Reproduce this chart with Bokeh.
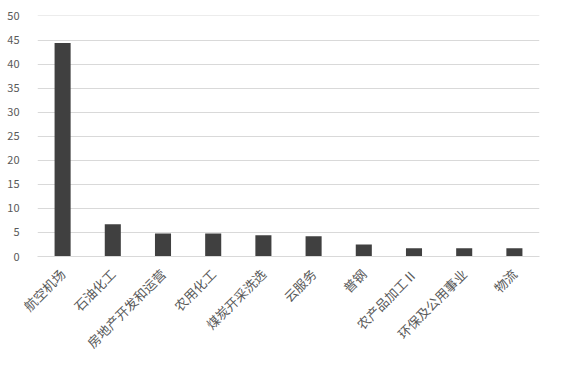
import math
from bokeh.plotting import figure
from bokeh.models import FactorRange, Range1d, FixedTicker, ColumnDataSource
from bokeh.embed import file_html
from bokeh.resources import INLINE

categories = ["航空机场", "石油化工", "房地产开发和运营", "农用化工", "煤炭开采洗选",
              "云服务", "普钢", "农产品加工Ⅱ", "环保及公用事业", "物流"]
values = [44.4, 6.7, 4.8, 4.8, 4.4, 4.2, 2.5, 1.7, 1.7, 1.7]
y_ticks = [0, 5, 10, 15, 20, 25, 30, 35, 40, 45, 50]

src = ColumnDataSource(dict(cat=categories, val=values))

p = figure(x_range=FactorRange(*categories, range_padding=0), y_range=Range1d(0, 50.1),
           frame_width=502, frame_height=241, output_backend="svg", toolbar_location=None,
           min_border_left=37, min_border_right=10, min_border_top=15, min_border_bottom=0)
p.outline_line_color = None
p.vbar(x="cat", top="val", width=0.32, source=src, color="#404040", line_color=None)

p.yaxis.ticker = FixedTicker(ticks=y_ticks)
p.yaxis.axis_line_color = None
p.yaxis.major_tick_line_color = None
p.yaxis.minor_tick_line_color = None
p.yaxis.major_label_standoff = 12
p.yaxis.major_label_text_font = "Noto Sans CJK SC"
p.yaxis.major_label_text_font_size = "11px"
p.yaxis.major_label_text_color = "#595959"

p.xaxis.axis_line_color = "#d9d9d9"
p.xaxis.major_tick_line_color = None
p.xaxis.minor_tick_line_color = None
p.xaxis.major_label_orientation = math.pi / 4
p.xaxis.major_label_standoff = 9
p.xaxis.major_label_text_font = "Noto Sans CJK SC"
p.xaxis.major_label_text_font_size = "13px"
p.xaxis.major_label_text_color = "#595959"

p.xgrid.grid_line_color = None
p.ygrid.grid_line_color = "#d9d9d9"

open("out.html", "w").write(file_html(p, INLINE))
